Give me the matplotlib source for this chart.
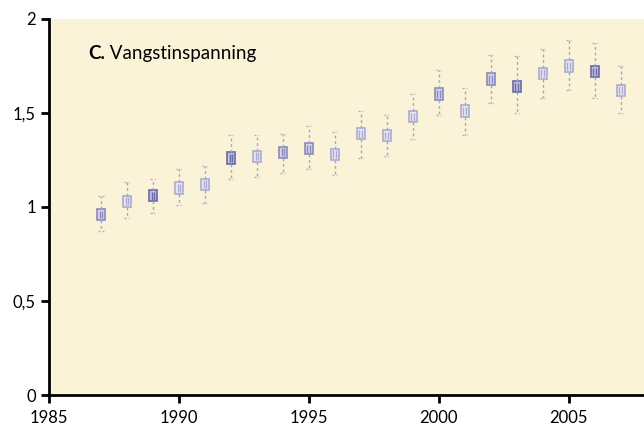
import matplotlib

matplotlib.use("Agg")
import matplotlib.pyplot as plt

# Catch effort index per year.
years = list(range(1987, 2008))
median = [0.96, 1.03, 1.06, 1.10, 1.12, 1.26, 1.27, 1.29, 1.31, 1.28, 1.39,
          1.38, 1.48, 1.60, 1.51, 1.68, 1.64, 1.71, 1.75, 1.72, 1.62]
whisk_hi = [1.06, 1.13, 1.15, 1.20, 1.22, 1.38, 1.38, 1.39, 1.43, 1.40, 1.51,
            1.49, 1.60, 1.73, 1.63, 1.81, 1.80, 1.84, 1.89, 1.87, 1.75]
whisk_lo = [0.87, 0.94, 0.97, 1.01, 1.02, 1.15, 1.16, 1.18, 1.20, 1.17, 1.26,
            1.27, 1.36, 1.49, 1.38, 1.55, 1.50, 1.58, 1.62, 1.58, 1.50]
box_half = 0.03
dark_years = [1989, 1992, 2003, 2006]
mid_years = [1987, 1994, 1995, 2000, 2002]

x_ticks = [1985, 1990, 1995, 2000, 2005]
y_ticks = [0, 0.5, 1, 1.5, 2]
y_labels = ["0", "0,5", "1", "1,5", "2"]

plt.rcParams["font.family"] = ["Lato", "DejaVu Sans"]

fig = plt.figure(figsize=(6.44, 4.28), dpi=100)
ax = fig.add_axes([0.076, 0.077, 0.924, 0.879])
ax.set_facecolor("#fbf3d8")

for yr, med, hi, lo in zip(years, median, whisk_hi, whisk_lo):
    if yr in dark_years:
        face, edge = "#c0c0e0", "#6a6aa6"
    elif yr in mid_years:
        face, edge = "#d6d7ed", "#8a8abd"
    else:
        face, edge = "#e8e8f4", "#ababd2"
    stats = [{"med": med, "q1": med - box_half, "q3": med + box_half,
              "whislo": lo, "whishi": hi, "fliers": []}]
    ax.bxp(stats, positions=[yr], widths=0.3, patch_artist=True,
           boxprops=dict(facecolor=face, edgecolor=edge, linewidth=1.2),
           whiskerprops=dict(color="#a4a4c4", linestyle=(0, (2, 2)), linewidth=1),
           capprops=dict(color="#b0b0cc", linestyle=(0, (1.5, 1.5)), linewidth=1),
           medianprops=dict(linewidth=0), capwidths=0.2, manage_ticks=False)
    ax.vlines([yr - 0.05, yr + 0.05], med - box_half * 0.7, med + box_half * 0.7,
              color=edge, linewidth=1)

ax.set_xlim(1985, 2007.9)
ax.set_ylim(0, 2)
ax.set_xticks(x_ticks)
ax.set_yticks(y_ticks)
ax.set_yticklabels(y_labels)
ax.tick_params(direction="out", length=6, width=2, labelsize=12, color="black")
ax.tick_params(axis="x", pad=5)
ax.spines["top"].set_visible(False)
ax.spines["right"].set_visible(False)
for side in ("left", "bottom"):
    ax.spines[side].set_linewidth(2)

lbl = ax.text(0.066, 0.893, "C.", transform=ax.transAxes, fontsize=13.5,
              fontweight="bold", va="baseline")
ax.annotate(" Vangstinspanning", xy=(1, 0), xycoords=lbl, fontsize=13.5,
            va="bottom")

fig.savefig("out.png", dpi=100)
